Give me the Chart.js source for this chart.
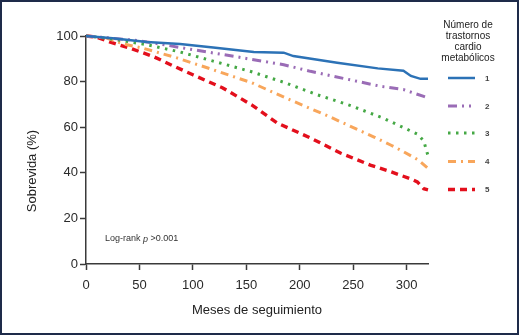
<!DOCTYPE html>
<html>
<head>
<meta charset="utf-8">
<script src="https://cdn.jsdelivr.net/npm/chart.js@4/dist/chart.umd.min.js"></script>
<style>
  html, body { margin: 0; padding: 0; background: #fff; }
  #wrap { width: 519px; height: 335px; }
</style>
</head>
<body>
<div id="wrap"><canvas id="survChart" width="519" height="335"></canvas></div>
<script>
// Kaplan-Meier survival by number of cardiometabolic disorders
const groupLabels = ["1", "2", "3", "4", "5"];

const months1 = [0, 25, 57, 88, 119, 157, 185, 194, 235, 273, 297, 304, 313, 320];
const surv1   = [100, 99, 97.4, 96.5, 95, 93, 92.7, 91.2, 88.3, 85.8, 84.8, 82.5, 81.2, 81.2];

const months2 = [0, 25, 48, 69, 95, 142, 154, 185, 210, 254, 276, 297, 316, 320];
const surv2   = [100, 99, 98, 96.5, 94.4, 90.8, 89.8, 87.4, 84.5, 80.1, 77.9, 76.5, 73.5, 72.8];

const months3 = [0, 20, 57, 88, 119, 155, 185, 216, 248, 278, 304, 310, 316, 320];
const surv3   = [100, 99, 96.2, 93, 89, 84.3, 79.7, 74.3, 69.4, 64, 58.3, 57, 54, 47.5];

const months4 = [0, 20, 35, 53, 85, 119, 155, 191, 226, 254, 269, 285, 297, 311, 320];
const surv4   = [100, 99, 96.5, 94.7, 90.4, 85.2, 79.5, 72, 65, 59, 55.8, 52.2, 49.3, 45.6, 42];

const months5 = [0, 10, 22, 41, 63, 82, 100, 128, 155, 179, 210, 238, 266, 285, 304, 310, 316, 320];
const surv5   = [100, 99.5, 97.4, 94.7, 91, 86.8, 83, 77.2, 69.8, 61.8, 55.3, 48.7, 43.4, 40.5, 37.3, 36, 33, 32.5];

const xTicks = [0, 50, 100, 150, 200, 250, 300];
const yTicks = [0, 20, 40, 60, 80, 100];

const legendTitle = ["Número de", "trastornos", "cardio", "metabólicos"];
const noteText = "Log-rank ";

const styles = [
    { color: "#2c72b6", width: 2.5, dash: [] },
    { color: "#9a6cb6", width: 3, dash: [9, 5, 2, 5, 2, 5] },
    { color: "#45a845", width: 3, dash: [2.5, 5.5] },
    { color: "#f8a65b", width: 3, dash: [8, 5, 2, 5] },
    { color: "#e30f1c", width: 3.4, dash: [7, 5] },
];

function pts(xs, ys) {
    return xs.map((x, i) => ({ x: x, y: ys[i] }));
}
const series = [pts(months1, surv1), pts(months2, surv2), pts(months3, surv3), pts(months4, surv4), pts(months5, surv5)];

const FONT = "'Liberation Sans', Arial, sans-serif";

// frame, y title, note and the legend on the right
const decor = {
    id: "decor",
    beforeDraw(chart) {
        const ctx = chart.ctx;
        ctx.save();
        ctx.fillStyle = "#fff";
        ctx.fillRect(0, 0, chart.width, chart.height);
        ctx.restore();
    },
    afterDraw(chart) {
        const ctx = chart.ctx;
        ctx.save();

        // y title
        ctx.translate(32, 171);
        ctx.rotate(-Math.PI / 2);
        ctx.font = "13px " + FONT;
        ctx.fillStyle = "#222";
        ctx.textAlign = "center";
        ctx.textBaseline = "middle";
        ctx.fillText("Sobrevida (%)", 0, 0);
        ctx.setTransform(1, 0, 0, 1, 0, 0);

        // log-rank note
        ctx.font = "9px " + FONT;
        ctx.fillStyle = "#333";
        ctx.textAlign = "left";
        ctx.textBaseline = "middle";
        let nx = 105;
        ctx.fillText(noteText, nx, 239);
        nx += ctx.measureText(noteText).width;
        ctx.font = "italic 9px " + FONT;
        ctx.fillText("p", nx, 239);
        nx += ctx.measureText("p ").width;
        ctx.font = "9px " + FONT;
        ctx.fillText(">0.001", nx, 239);

        // legend
        ctx.font = "10px " + FONT;
        ctx.fillStyle = "#222";
        ctx.textAlign = "center";
        legendTitle.forEach((line, i) => ctx.fillText(line, 468, 25 + i * 11));
        const rows = [78, 106, 133, 161.5, 189.5];
        chart.data.datasets.forEach((ds, i) => {
            ctx.beginPath();
            ctx.strokeStyle = ds.borderColor;
            ctx.lineWidth = ds.borderWidth;
            ctx.setLineDash(ds.borderDash);
            ctx.moveTo(448, rows[i]);
            ctx.lineTo(475, rows[i]);
            ctx.stroke();
            ctx.setLineDash([]);
            ctx.font = "bold 8px " + FONT;
            ctx.fillStyle = "#444";
            ctx.textAlign = "left";
            ctx.fillText(ds.label, 485, rows[i] + 0.5);
        });

        // outer frame
        ctx.strokeStyle = "#1e2b4a";
        ctx.lineWidth = 2;
        ctx.strokeRect(1, 1, chart.width - 2, chart.height - 2);
        ctx.restore();
    }
};

const survCanvas = document.getElementById("survChart").getContext("2d");
const survChart = new Chart(survCanvas, {
    type: "line",
    data: {
        datasets: series.map((data, i) => ({
            label: groupLabels[i],
            data: data,
            borderColor: styles[i].color,
            borderWidth: styles[i].width,
            borderDash: styles[i].dash,
            pointRadius: 0,
            tension: 0,
            fill: false,
            clip: false,
        })),
    },
    options: {
        responsive: false,
        animation: false,
        devicePixelRatio: 1,
        layout: {
            padding: { left: 0, top: 36, right: 91, bottom: 0 }
        },
        plugins: {
            legend: { display: false },
            tooltip: { enabled: false }
        },
        scales: {
            x: {
                type: "linear",
                min: 0,
                max: 320,
                afterBuildTicks: (scale) => { scale.ticks = xTicks.map(v => ({ value: v })); },
                afterFit: (scale) => { scale.height = 71; },
                border: { color: "#3a3a3a", width: 1.5 },
                grid: { drawOnChartArea: false, drawTicks: true, tickLength: 6, tickColor: "#3a3a3a", tickWidth: 1.5 },
                ticks: {
                    padding: 8,
                    color: "#2a2a2a",
                    font: { family: FONT, size: 13 },
                    maxRotation: 0
                },
                title: {
                    display: true,
                    text: "Meses de seguimiento",
                    color: "#222",
                    font: { family: FONT, size: 13 },
                    padding: { top: 4, bottom: 17 }
                }
            },
            y: {
                min: 0,
                max: 100,
                afterBuildTicks: (scale) => { scale.ticks = yTicks.map(v => ({ value: v })); },
                afterFit: (scale) => { scale.width = 86; },
                border: { color: "#3a3a3a", width: 1.5 },
                grid: { drawOnChartArea: false, drawTicks: true, tickLength: 6, tickColor: "#3a3a3a", tickWidth: 1.5 },
                ticks: {
                    padding: 2,
                    color: "#2a2a2a",
                    font: { family: FONT, size: 13 }
                }
            }
        }
    },
    plugins: [decor]
});
</script>
</body>
</html>
